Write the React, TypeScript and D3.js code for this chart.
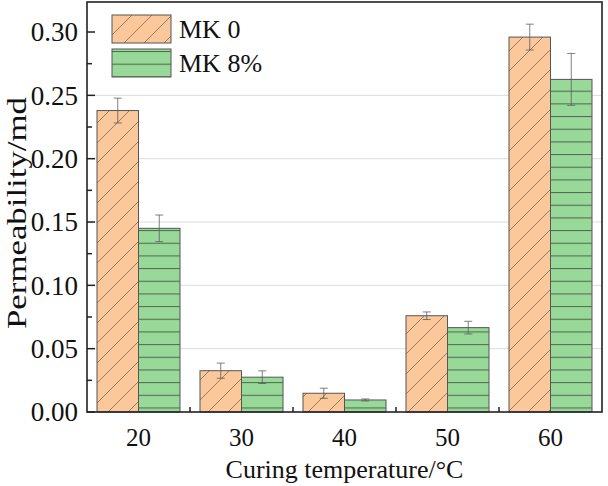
import React from "react";
import * as d3 from "d3";

const categories = ["20", "30", "40", "50", "60"];
const seriesNames = ["MK 0", "MK 8%"];
const mk0Values = [0.238, 0.0326, 0.0148, 0.076, 0.296];
const mk0Errors = [0.0098, 0.006, 0.004, 0.003, 0.0102];
const mk8Values = [0.145, 0.0275, 0.0095, 0.0666, 0.2626];
const mk8Errors = [0.0105, 0.005, 0.0008, 0.005, 0.0205];
const yTicks = [0, 0.05, 0.1, 0.15, 0.2, 0.25, 0.3];
const yMinorTicks = [0.025, 0.075, 0.125, 0.175, 0.225, 0.275];
const gridTicks = [0.05, 0.1, 0.15, 0.2, 0.25];

const W = 608;
const H = 486;
const L = 87, R = 602, T = 2, B = 412;
const FONT = "'Liberation Serif', 'Times New Roman', serif";

export default function App() {
  const x = d3.scaleBand<string>().domain(categories).range([L, R]).paddingInner(0).paddingOuter(0);
  const xs = d3.scaleBand<string>().domain(seriesNames).range([10, x.bandwidth() - 10]).padding(0);
  const y = d3.scaleLinear().domain([0, 0.3237]).range([B, T]);

  const series = [
    { name: seriesNames[0], values: mk0Values, errors: mk0Errors, fill: "#FAC89A", pat: "url(#hatchDiag)" },
    { name: seriesNames[1], values: mk8Values, errors: mk8Errors, fill: "#98D898", pat: "url(#hatchHoriz)" },
  ];

  const bw = xs.bandwidth();

  return (
    <svg width={W} height={H} style={{ position: "absolute", left: 0, top: 0, background: "#fff" }} fontFamily={FONT}>
      <defs>
        <pattern id="hatchDiag" patternUnits="userSpaceOnUse" width={20} height={20}>
          <path d="M0,20 L20,0 M-2,2 L2,-2 M18,22 L22,18" stroke="#86664e" strokeWidth={1} strokeOpacity={0.8} />
        </pattern>
        <pattern id="hatchHoriz" patternUnits="userSpaceOnUse" width={10} height={12.67} y={2}>
          <path d="M0,0.5 L10,0.5" stroke="#3f5a42" strokeWidth={1.1} strokeOpacity={0.85} />
        </pattern>
      </defs>
      <rect x={0} y={0} width={W} height={H} fill="#fff" />
      {gridTicks.map((t) => (
        <line key={"g" + t} x1={L} x2={R} y1={y(t)} y2={y(t)} stroke="#dcdcdc" strokeWidth={1} />
      ))}
      {series.map((s) =>
        categories.map((c, i) => {
          const bx = (x(c) as number) + (xs(s.name) as number);
          const by = y(s.values[i]);
          const h = B - by;
          return (
            <g key={s.name + c}>
              <rect x={bx} y={by} width={bw} height={h} fill={s.fill} />
              <rect x={bx} y={by} width={bw} height={h} fill={s.pat} stroke="#555" strokeWidth={1} />
            </g>
          );
        })
      )}
      {series.map((s) =>
        categories.map((c, i) => {
          const cx = (x(c) as number) + (xs(s.name) as number) + bw / 2;
          const y1 = y(s.values[i] + s.errors[i]);
          const y2 = y(s.values[i] - s.errors[i]);
          return (
            <g key={"e" + s.name + c} stroke="#555" strokeWidth={1} strokeOpacity={0.75}>
              <line x1={cx} x2={cx} y1={y1} y2={y2} />
              <line x1={cx - 4} x2={cx + 4} y1={y1} y2={y1} />
              <line x1={cx - 4} x2={cx + 4} y1={y2} y2={y2} />
            </g>
          );
        })
      )}
      <rect x={L} y={T} width={R - L} height={B - T} fill="none" stroke="#222" strokeWidth={1.6} />
      {yTicks.map((t) => (
        <g key={"yt" + t}>
          <line x1={L} x2={L + 8} y1={y(t)} y2={y(t)} stroke="#222" strokeWidth={1.5} />
          <text x={78} y={y(t)} dy="0.35em" textAnchor="end" fontSize={27} fill="#111">
            {d3.format(".2f")(t)}
          </text>
        </g>
      ))}
      {yMinorTicks.map((t) => (
        <line key={"ym" + t} x1={L} x2={L + 5} y1={y(t)} y2={y(t)} stroke="#222" strokeWidth={1.5} />
      ))}
      {categories.slice(1).map((c) => (
        <line key={"xt" + c} x1={x(c) as number} x2={x(c) as number} y1={B} y2={B - 5} stroke="#222" strokeWidth={1.5} />
      ))}
      {categories.map((c) => (
        <text key={"xl" + c} x={(x(c) as number) + x.bandwidth() / 2} y={446} textAnchor="middle" fontSize={25} fill="#111">
          {c}
        </text>
      ))}
      <text x={(L + R) / 2} y={478} textAnchor="middle" fontSize={26} fill="#111">
        Curing temperature/°C
      </text>
      <text
        transform={`translate(26,${(T + B) / 2 + 6}) rotate(-90)`}
        textAnchor="middle"
        fontSize={27}
        textLength={232}
        lengthAdjust="spacingAndGlyphs"
        fill="#111"
      >
        Permeability/md
      </text>
      {series.map((s, i) => (
        <g key={"lg" + s.name} transform={`translate(112,${15 + i * 34})`}>
          <rect x={0} y={0} width={59} height={28} fill={s.fill} />
          <rect x={0} y={0} width={59} height={28} fill={s.pat} stroke="#555" strokeWidth={1} />
          <text x={67} y={14} dy="0.35em" fontSize={26} fill="#111">
            {s.name}
          </text>
        </g>
      ))}
    </svg>
  );
}
